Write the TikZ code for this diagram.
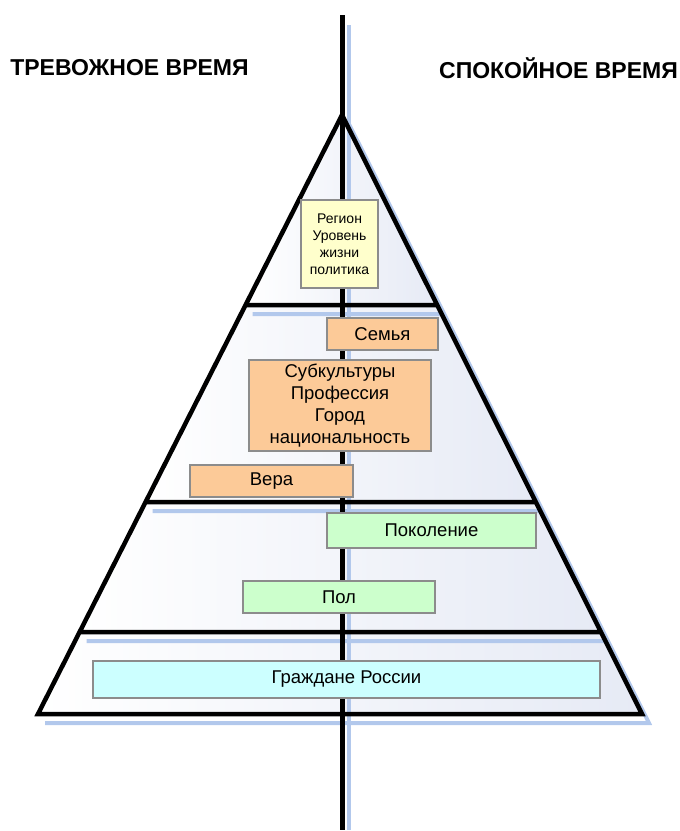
\documentclass[tikz,border=0pt]{standalone}
\usepackage{fontspec}
\setmainfont{Liberation Sans}
\usetikzlibrary{positioning,calc}
\definecolor{shadowblue}{RGB}{178,200,236}
\definecolor{tierfill}{RGB}{230,234,245}
\definecolor{yellowbox}{RGB}{255,255,204}
\definecolor{peachbox}{RGB}{252,202,152}
\definecolor{greenbox}{RGB}{204,255,204}
\definecolor{cyanbox}{RGB}{204,255,255}

\begin{document}
\begin{tikzpicture} [ x=1pt, y=-1pt,
    tier/.style={left color=white, right color=tierfill},
    tierline/.style={draw=black, line width=4.5pt, line join=miter},
    shadowline/.style={shadowblue, line width=4pt},
    itembox/.style={draw=black!45, line width=1.3pt, inner sep=0pt, align=center,
        font=\fontsize{18.5}{22}\selectfont},
    title/.style={font=\fontsize{23}{26}\bfseries\selectfont},
    ]
    \useasboundingbox (0,0) rectangle (680,831);

    \coordinate (apex) at (342,115);
    \coordinate (l1) at (245.6,305);  \coordinate (r1) at (437.2,305);
    \coordinate (l2) at (145.6,502);  \coordinate (r2) at (535.8,502);
    \coordinate (l3) at (79.6,632);   \coordinate (r3) at (600.9,632);
    \coordinate (l4) at (38,714);     \coordinate (r4) at (642,714);
    \coordinate (axistop) at (342,15);
    \coordinate (axisbot) at (342,830);

    % fills of the four tiers
    \path[tier] (apex) -- (l1) -- (r1) -- cycle;
    \path[tier] (l1) -- (r1) -- (r2) -- (l2) -- cycle;
    \path[tier] (l2) -- (r2) -- (r3) -- (l3) -- cycle;
    \path[tier] (l3) -- (r3) -- (r4) -- (l4) -- cycle;

    % shadows
    \begin{scope}[transform canvas={shift={(7pt,-9pt)}}]
    \draw[shadowline] (apex) -- (r4) -- (l4)
    (l1) -- (r1)
    (l2) -- (r2)
    (l3) -- (r3)
    ;
    \end{scope}
    \draw[shadowline] ($(axistop)+(7,10)$) -- ($(axisbot)+(7,0)$);

    % outlines
    \draw[tierline] (apex) -- (l4) -- (r4) -- cycle
    (l1) -- (r1)
    (l2) -- (r2)
    (l3) -- (r3)
    ;
    \draw[line width=5pt] (axistop) -- (axisbot);

    \node[title] (anxious) at (129.5,68) {ТРЕВОЖНОЕ ВРЕМЯ};
    \node[title] (calm) at (558.5,68) {СПОКОЙНОЕ ВРЕМЯ};

    \node[itembox, fill=yellowbox, minimum width=77pt, minimum height=88pt,
        font=\fontsize{14}{17}\selectfont] (region) at (339.5,244)
        {Регион\\Уровень\\жизни\\политика};
    \node[itembox, fill=peachbox, minimum width=111pt, minimum height=32pt]
        (family) at (382.5,334) {Семья};
    \node[itembox, fill=peachbox, minimum width=182pt, minimum height=91pt]
        (groups) at (340,405.5) {Субкультуры\\Профессия\\Город\\национальность};
    \node[itembox, fill=peachbox, minimum width=163pt, minimum height=32pt]
        (faith) at (271.5,481) {Вера};
    \node[itembox, fill=greenbox, minimum width=209pt, minimum height=35pt]
        (generation) at (431.5,530.5) {Поколение};
    \node[itembox, fill=greenbox, minimum width=192pt, minimum height=32pt]
        (sex) at (339,597) {Пол};
    \node[itembox, fill=cyanbox, minimum width=507pt, minimum height=37pt]
        (citizens) at (346.5,679.5) {Граждане России};

\end{tikzpicture}
\end{document}
